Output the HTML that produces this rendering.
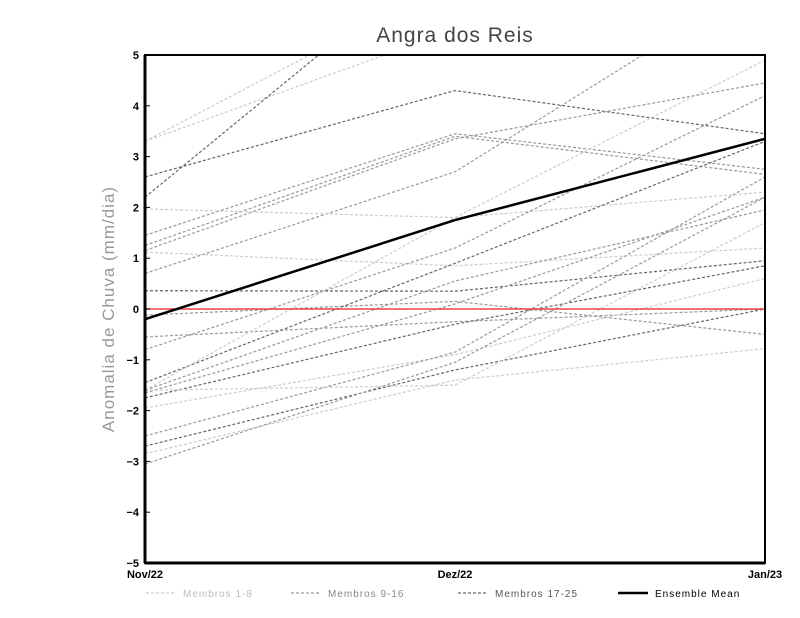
<!DOCTYPE html>
<html><head><meta charset="utf-8"><style>
body{margin:0;background:#fff;}
svg{display:block;font-family:"Liberation Sans",sans-serif;}
</style></head><body>
<svg id="chart" width="800" height="618">
<text x="455" y="42" text-anchor="middle" font-size="21" fill="#444" letter-spacing="1">Angra dos Reis</text>
<text transform="translate(114,309) rotate(-90)" text-anchor="middle" font-size="17" fill="#999" letter-spacing="1">Anomalia de Chuva (mm/dia)</text>
<defs><clipPath id="clip"><rect x="145" y="55" width="620" height="508"/></clipPath></defs>
<g id="series" clip-path="url(#clip)"></g>
<g id="axes"></g>
<g id="legend"></g>
</svg>
<script>
const categories=["Nov/22","Dez/22","Jan/23"];
const yTicks=[5,4,3,2,1,0,-1,-2,-3,-4,-5];
const memberGroups=[0,0,2,2,1,1,1,1,0,0,2,1,1,1,2,1,1,0,2,0,1,2,0,1,0];
const members=[
[3.3,6.5,7],[3.3,5.5,6],[2.2,7.2,8],[2.6,4.3,3.45],[1.45,3.45,2.75],
[1.25,3.4,2.65],[1.15,3.35,4.45],[0.7,2.7,6.5],[1.97,1.8,2.3],[1.12,0.85,1.2],
[0.36,0.35,0.95],[-0.12,0.15,-0.5],[-0.55,-0.25,0.0],[-0.8,1.2,4.2],[-1.45,0.9,3.3],
[-1.6,0.55,1.95],[-1.65,0.1,2.2],[-1.6,1.8,4.9],[-1.75,-0.3,0.85],[-1.95,-0.9,0.6],
[-2.5,-0.85,2.6],[-2.7,-1.2,0.0],[-2.85,-1.4,-0.78],[-3.05,-1.05,2.2],[-1.6,-1.5,1.7]];
const ensembleMean=[-0.2,1.75,3.35];
const legendLabels=["Membros 1-8","Membros 9-16","Membros 17-25","Ensemble Mean"];
const groupColors=["#cccccc","#999999","#666666"];
const NS="http://www.w3.org/2000/svg";
const X0=145,X1=765,Y0=563,Y1=55;
function xs(i){return X0+(X1-X0)*i/(categories.length-1);}
function ys(v){return Y0-(v+5)/10*(Y0-Y1);}
function mk(t,a,p){const e=document.createElementNS(NS,t);for(const k in a)e.setAttribute(k,a[k]);p.appendChild(e);return e;}
const S=document.getElementById('series'),A=document.getElementById('axes'),L=document.getElementById('legend');
members.forEach((m,k)=>{
 const pl=mk('polyline',{points:m.map((v,i)=>xs(i)+','+ys(v)).join(' '),fill:'none',stroke:groupColors[memberGroups[k]],'stroke-width':1.2,'stroke-dasharray':'3,2'},S);
 
 
});
const z=mk('line',{x1:X0,x2:X1,y1:ys(0),y2:ys(0),stroke:'#f04040','stroke-width':1.5},S);


const em=mk('polyline',{points:ensembleMean.map((v,i)=>xs(i)+','+ys(v)).join(' '),fill:'none',stroke:'#000','stroke-width':2.5},S);


const fr=mk('rect',{x:X0,y:Y1,width:X1-X0,height:Y0-Y1,fill:'none',stroke:'#000','stroke-width':2},A);


mk('line',{x1:X0,x2:X0,y1:Y1,y2:Y0,stroke:'#000','stroke-width':3},A);
mk('line',{x1:X0,x2:X1,y1:Y0,y2:Y0,stroke:'#000','stroke-width':3},A);
yTicks.forEach(v=>{
 const t=mk('text',{x:139,y:ys(v)+4,'text-anchor':'end','font-size':11,'font-weight':'bold'},A);
 t.textContent=v<0?'\u2212'+(-v):v;
 
 
 mk('line',{x1:X0,x2:X0+5,y1:ys(v),y2:ys(v),stroke:'#000','stroke-width':1},A);
});
categories.forEach((c,i)=>{
 const t=mk('text',{x:xs(i),y:578,'text-anchor':'middle','font-size':11,'font-weight':'bold'},A);
 t.textContent=c;
 
 
});
const lx=[146,291,458,618];
legendLabels.forEach((lab,i)=>{
 const col=i<3?groupColors[i]:'#000';
 mk('line',{x1:lx[i],x2:lx[i]+30,y1:593,y2:593,stroke:col,'stroke-width':i<3?1.2:2.5,'stroke-dasharray':i<3?'3,2':'none'},L);
 const t=mk('text',{x:lx[i]+37,y:597,'font-size':10,fill:i<3?(i==0?'#bbb':i==1?'#888':'#555'):'#000','letter-spacing':1},L);
 t.textContent=lab;
 
 
});
</script>
</body></html>
